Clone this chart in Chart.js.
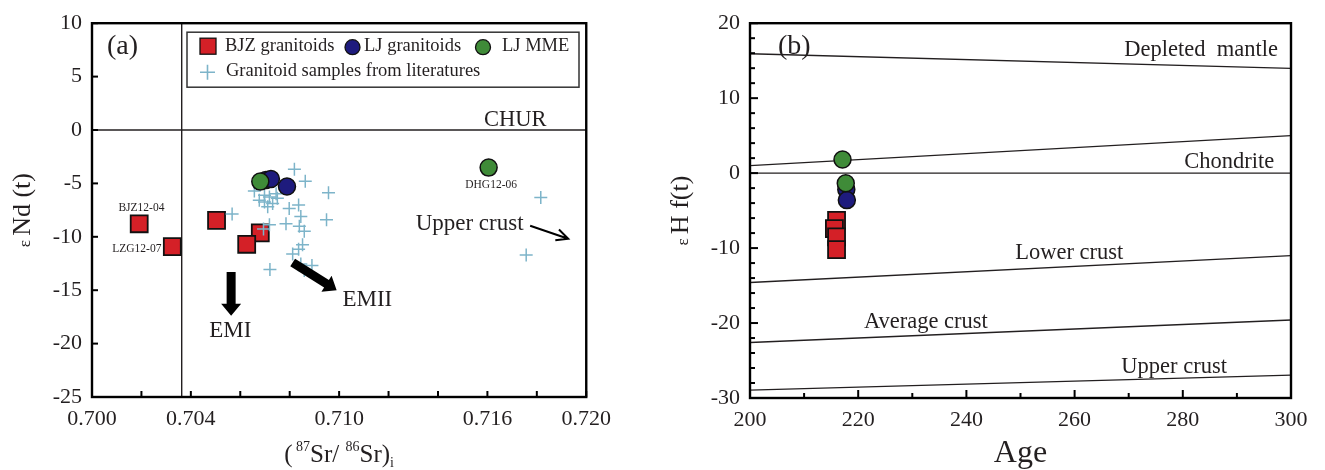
<!DOCTYPE html>
<html>
<head>
<meta charset="utf-8">
<script src="https://cdn.jsdelivr.net/npm/chart.js@4.4.0/dist/chart.umd.min.js"></script>
<style>
    body { margin: 0; background: #fff; width: 1325px; height: 470px; position: relative; overflow: hidden; }
    .panel { position: absolute; top: 0; height: 470px; }
    #wrapA { left: 0; width: 620px; }
    #wrapB { left: 660px; width: 665px; }
</style>
</head>
<body>
<div class="panel" id="wrapA"><canvas id="chartA"></canvas></div>
<div class="panel" id="wrapB"><canvas id="chartB"></canvas></div>
<script>
// Sr-Nd (a) and Hf-age (b) isotope diagrams

const serif = "'Liberation Serif', 'Times New Roman', serif";
const ink = '#231f20';
const colors = {
    red: '#d42027',
    navy: '#1e1b7d',
    green: '#3f8b38',
    cross: '#7db4c9'
};

// ---------- panel (a): (87Sr/86Sr)i vs eNd(t) ----------
const srTicks = [0.700, 0.702, 0.704, 0.706, 0.708, 0.710, 0.712, 0.714, 0.716, 0.718, 0.720];
const srTickLabels = [0.700, 0.704, 0.710, 0.716, 0.720];
const ndTicks = [10, 5, 0, -5, -10, -15, -20, -25];

const bjzSr = [0.70191, 0.70325, 0.70504, 0.70681, 0.70626];
const bjzNd = [-8.78, -10.92, -8.47, -9.63, -10.70];

const ljSr = [0.70704, 0.70724, 0.70789];
const ljNd = [-4.68, -4.59, -5.29];

const mmeSr = [0.70681, 0.71605];
const mmeNd = [-4.83, -3.52];

const litSr = [0.70819, 0.70863, 0.70957, 0.70949, 0.70836, 0.70798, 0.70845, 0.70785,
    0.70839, 0.70859, 0.70718, 0.70694, 0.70836, 0.70812, 0.70845, 0.70890, 0.70720,
    0.70859, 0.70657, 0.70677, 0.70698, 0.70718, 0.70731, 0.70711, 0.70745, 0.70698,
    0.70567, 0.71816, 0.71757, 0.70852, 0.70750];
const litNd = [-3.67, -4.80, -5.87, -8.41, -7.03, -7.34, -8.10, -8.78,
    -9.02, -9.48, -8.87, -9.27, -11.16, -11.62, -12.54, -12.69, -13.06,
    -13.15, -5.72, -6.58, -6.12, -6.27, -6.88, -7.19, -5.96, -6.73,
    -7.86, -6.33, -11.71, -10.75, -6.40];

// reference lines
const churSr = [0.700, 0.720];
const churNd = [0, 0];
const bseSr = [0.70363, 0.70363];
const bseNd = [10, -25];

// arrows (start, end)
const emiSr = [0.70563, 0.70563];
const emiNd = [-13.3, -17.4];
const emiiSr = [0.70812, 0.70990];
const emiiNd = [-12.4, -15.0];
const ucSr = [0.71773, 0.71927];
const ucNd = [-8.96, -10.18];

// ---------- panel (b): Age vs eHf(t) ----------
const ageTicks = [200, 210, 220, 230, 240, 250, 260, 270, 280, 290, 300];
const hfTicks = [20, 18, 16, 14, 12, 10, 8, 6, 4, 2, 0, -2, -4, -6, -8, -10, -12, -14, -16, -18,
    -20, -22, -24, -26, -28, -30];

const bjzAge = [216.0, 215.6, 216.0, 216.0];
const bjzHf = [-6.3, -7.4, -8.5, -10.2];

const ljAge = [217.8, 217.9];
const ljHf = [-2.2, -3.6];

const mmeAge = [217.1, 217.7];
const mmeHf = [1.82, -1.36];

const refAge = [200, 300];
const depletedMantle = [15.92, 13.97];
const chondriteUpper = [1.0, 5.0];
const chondrite = [0, 0];
const lowerCrust = [-14.6, -11.0];
const averageCrust = [-22.6, -19.6];
const upperCrust = [-28.95, -26.95];

function pts(xs, ys) {
    return xs.map((x, i) => ({ x: x, y: ys[i] }));
}

function near(list, v) {
    return list.some(l => Math.abs(l - v) < 1e-7);
}

function lineSet(xs, ys) {
    return {
        data: pts(xs, ys),
        showLine: true,
        pointRadius: 0,
        borderColor: ink,
        borderWidth: 1.4,
        fill: false
    };
}

// text with mixed sizes (superscripts etc.)
function drawRich(ctx, parts, cx, cy, rotate) {
    ctx.save();
    ctx.translate(cx, cy);
    if (rotate) ctx.rotate(-Math.PI / 2);
    let total = 0;
    parts.forEach(p => {
        ctx.font = p.size + 'px ' + serif;
        p.w = ctx.measureText(p.t).width;
        total += p.w;
    });
    let x = -total / 2;
    ctx.fillStyle = ink;
    ctx.textBaseline = 'alphabetic';
    ctx.textAlign = 'left';
    parts.forEach(p => {
        ctx.font = p.size + 'px ' + serif;
        ctx.fillText(p.t, x, p.dy || 0);
        x += p.w;
    });
    ctx.restore();
}

function fatArrow(ctx, x0, y0, x1, y1, shaft, headW, headL) {
    const ang = Math.atan2(y1 - y0, x1 - x0);
    const len = Math.hypot(x1 - x0, y1 - y0);
    ctx.save();
    ctx.translate(x0, y0);
    ctx.rotate(ang);
    ctx.fillStyle = '#000';
    ctx.beginPath();
    ctx.moveTo(0, -shaft / 2);
    ctx.lineTo(len - headL, -shaft / 2);
    ctx.lineTo(len - headL, -headW / 2);
    ctx.lineTo(len, 0);
    ctx.lineTo(len - headL, headW / 2);
    ctx.lineTo(len - headL, shaft / 2);
    ctx.lineTo(0, shaft / 2);
    ctx.closePath();
    ctx.fill();
    ctx.restore();
}

function openArrow(ctx, x0, y0, x1, y1, headL) {
    const ang = Math.atan2(y1 - y0, x1 - x0);
    ctx.save();
    ctx.strokeStyle = '#000';
    ctx.lineWidth = 2;
    ctx.beginPath();
    ctx.moveTo(x0, y0);
    ctx.lineTo(x1, y1);
    ctx.moveTo(x1 - headL * Math.cos(ang - 0.45), y1 - headL * Math.sin(ang - 0.45));
    ctx.lineTo(x1, y1);
    ctx.lineTo(x1 - headL * Math.cos(ang + 0.45), y1 - headL * Math.sin(ang + 0.45));
    ctx.stroke();
    ctx.restore();
}

// frame, inward ticks, annotations, titles
const decor = {
    id: 'decor',
    afterDatasetsDraw(chart, args, opts) {
        const ctx = chart.ctx;
        const a = chart.chartArea;
        const xs = chart.scales.x;
        const ys = chart.scales.y;
        ctx.save();

        // inward ticks
        ctx.strokeStyle = '#000';
        ctx.lineWidth = 2;
        xs.ticks.forEach(t => {
            const px = xs.getPixelForValue(t.value);
            const len = opts.xMajor(t.value) ? opts.tickMajor : opts.tickMinor;
            ctx.beginPath();
            ctx.moveTo(px, a.bottom);
            ctx.lineTo(px, a.bottom - len);
            ctx.stroke();
        });
        ys.ticks.forEach(t => {
            const py = ys.getPixelForValue(t.value);
            const len = opts.yMajor(t.value) ? opts.tickMajor : opts.tickMinor;
            ctx.beginPath();
            ctx.moveTo(a.left, py);
            ctx.lineTo(a.left + len, py);
            ctx.stroke();
        });

        // frame
        ctx.lineWidth = 2.4;
        ctx.strokeRect(a.left, a.top, a.right - a.left, a.bottom - a.top);

        // arrows
        (opts.fatArrows || []).forEach(ar => {
            fatArrow(ctx,
                xs.getPixelForValue(ar.xs[0]), ys.getPixelForValue(ar.ys[0]),
                xs.getPixelForValue(ar.xs[1]), ys.getPixelForValue(ar.ys[1]),
                ar.shaft, ar.headW, ar.headL);
        });
        (opts.openArrows || []).forEach(ar => {
            openArrow(ctx,
                xs.getPixelForValue(ar.xs[0]), ys.getPixelForValue(ar.ys[0]),
                xs.getPixelForValue(ar.xs[1]), ys.getPixelForValue(ar.ys[1]), 13);
        });

        // text labels placed at data coordinates
        ctx.fillStyle = ink;
        ctx.textBaseline = 'alphabetic';
        (opts.texts || []).forEach(tx => {
            ctx.font = tx.size + 'px ' + serif;
            ctx.textAlign = tx.align || 'center';
            ctx.fillText(tx.t, xs.getPixelForValue(tx.x), ys.getPixelForValue(tx.y));
        });

        // panel tag
        ctx.font = '28px ' + serif;
        ctx.textAlign = 'left';
        ctx.fillText(opts.tag, a.left + opts.tagDx, a.top + 31);

        // legend (panel a)
        if (opts.legend) {
            const L = a.left, T = a.top;
            ctx.lineWidth = 1.5;
            ctx.strokeStyle = '#333';
            ctx.strokeRect(L + 95, T + 9, 392, 55);
            ctx.lineWidth = 1.3;
            ctx.strokeStyle = '#111';
            // BJZ square
            ctx.fillStyle = colors.red;
            ctx.fillRect(L + 108, T + 15, 16, 16);
            ctx.strokeRect(L + 108, T + 15, 16, 16);
            // LJ circle
            ctx.fillStyle = colors.navy;
            ctx.beginPath(); ctx.arc(L + 260.5, T + 24, 7.5, 0, Math.PI * 2); ctx.fill(); ctx.stroke();
            // MME circle
            ctx.fillStyle = colors.green;
            ctx.beginPath(); ctx.arc(L + 391, T + 24, 7.5, 0, Math.PI * 2); ctx.fill(); ctx.stroke();
            // cross
            ctx.strokeStyle = colors.cross;
            ctx.lineWidth = 1.6;
            ctx.beginPath();
            ctx.moveTo(L + 108, T + 49); ctx.lineTo(L + 123, T + 49);
            ctx.moveTo(L + 115.5, T + 41.5); ctx.lineTo(L + 115.5, T + 56.5);
            ctx.stroke();
            ctx.fillStyle = ink;
            ctx.font = '18.5px ' + serif;
            ctx.textAlign = 'left';
            ctx.textBaseline = 'middle';
            ctx.fillText('BJZ granitoids', L + 133, T + 23);
            ctx.fillText('LJ granitoids', L + 272, T + 23);
            ctx.fillText('LJ MME', L + 410, T + 23);
            ctx.fillText('Granitoid samples from literatures', L + 134, T + 48);
        }

        // axis titles
        const cx = (a.left + a.right) / 2;
        const cy = (a.top + a.bottom) / 2;
        drawRich(ctx, opts.xTitle, cx, a.bottom + opts.xTitleDy, false);
        drawRich(ctx, opts.yTitle, a.left - opts.yTitleDx, cy, true);

        ctx.restore();
    }
};

function scaleX(min, max, ticks, labels, height, digits) {
    return {
        type: 'linear',
        min: min,
        max: max,
        afterBuildTicks: s => { s.ticks = ticks.map(v => ({ value: v })); },
        afterFit: s => { s.height = height; },
        grid: { display: false, drawTicks: false },
        border: { display: false },
        ticks: {
            autoSkip: false,
            maxRotation: 0,
            padding: 9,
            color: ink,
            font: { family: serif, size: 22 },
            callback: v => near(labels, v) ? v.toFixed(digits) : ''
        }
    };
}

function scaleY(min, max, ticks, labels, width) {
    return {
        type: 'linear',
        min: min,
        max: max,
        afterBuildTicks: s => { s.ticks = ticks.map(v => ({ value: v })); },
        afterFit: s => { s.width = width; },
        grid: { display: false, drawTicks: false },
        border: { display: false },
        ticks: {
            autoSkip: false,
            padding: 10,
            color: ink,
            font: { family: serif, size: 22 },
            callback: v => near(labels, v) ? String(v) : ''
        }
    };
}

const baseOptions = {
    responsive: true,
    maintainAspectRatio: false,
    animation: false,
    devicePixelRatio: 1
};

// Panel (a)
new Chart(document.getElementById('chartA'), {
    type: 'scatter',
    data: {
        datasets: [
            {
                label: 'LJ MME',
                data: pts(mmeSr, mmeNd),
                pointStyle: 'circle',
                pointRadius: 8.5,
                backgroundColor: colors.green,
                borderColor: '#111',
                borderWidth: 1.5
            },
            {
                label: 'LJ granitoids',
                data: pts(ljSr, ljNd),
                pointStyle: 'circle',
                pointRadius: 8.5,
                backgroundColor: colors.navy,
                borderColor: '#111',
                borderWidth: 1.5
            },
            {
                label: 'Granitoid samples from literatures',
                data: pts(litSr, litNd),
                pointStyle: 'cross',
                pointRadius: 6.5,
                borderColor: colors.cross,
                borderWidth: 1.5
            },
            {
                label: 'BJZ granitoids',
                data: pts(bjzSr, bjzNd),
                pointStyle: 'rect',
                pointRadius: 12,
                backgroundColor: colors.red,
                borderColor: '#111',
                borderWidth: 1.8
            },
            lineSet(churSr, churNd),
            lineSet(bseSr, bseNd)
        ]
    },
    options: {
        ...baseOptions,
        layout: { padding: { top: 16, right: 32, left: 0, bottom: 0 } },
        scales: {
            x: scaleX(0.700, 0.720, srTicks, srTickLabels, 73, 3),
            y: scaleY(-25, 10, ndTicks, ndTicks, 92)
        },
        plugins: {
            legend: { display: false },
            tooltip: { enabled: false },
            decor: {
                tag: '(a)',
                tagDx: 15,
                legend: true,
                tickMajor: 6,
                tickMinor: 6,
                xMajor: () => true,
                yMajor: () => true,
                fatArrows: [
                    { xs: emiSr, ys: emiNd, shaft: 9, headW: 20, headL: 12 },
                    { xs: emiiSr, ys: emiiNd, shaft: 9, headW: 19, headL: 12 }
                ],
                openArrows: [{ xs: ucSr, ys: ucNd }],
                texts: [
                    { t: 'CHUR', x: 0.71713, y: 0.4, size: 22.5 },
                    { t: 'BJZ12-04', x: 0.70200, y: -7.6, size: 11.5 },
                    { t: 'LZG12-07', x: 0.70281, y: -11.4, size: 11.5, align: 'right' },
                    { t: 'DHG12-06', x: 0.71615, y: -5.4, size: 11.5 },
                    { t: 'Upper crust', x: 0.71528, y: -9.36, size: 23 },
                    { t: 'EMI', x: 0.70560, y: -19.36, size: 23 },
                    { t: 'EMII', x: 0.71114, y: -16.5, size: 23 }
                ],
                xTitle: [
                    { t: '(', size: 25 },
                    { t: ' 87', size: 14, dy: -11 },
                    { t: 'Sr/ ', size: 25 },
                    { t: '86', size: 14, dy: -11 },
                    { t: 'Sr)', size: 25 },
                    { t: 'i', size: 14, dy: 5 }
                ],
                xTitleDy: 65,
                yTitle: [
                    { t: 'ε ', size: 17 },
                    { t: 'Nd (t)', size: 26 }
                ],
                yTitleDx: 62
            }
        }
    },
    plugins: [decor]
});

// Panel (b)
new Chart(document.getElementById('chartB'), {
    type: 'scatter',
    data: {
        datasets: [
            {
                label: 'LJ MME',
                data: pts(mmeAge, mmeHf),
                pointStyle: 'circle',
                pointRadius: 8.5,
                backgroundColor: colors.green,
                borderColor: '#111',
                borderWidth: 1.5
            },
            {
                label: 'LJ granitoids',
                data: pts(ljAge, ljHf),
                pointStyle: 'circle',
                pointRadius: 8.5,
                backgroundColor: colors.navy,
                borderColor: '#111',
                borderWidth: 1.5
            },
            {
                label: 'BJZ granitoids',
                data: pts(bjzAge, bjzHf),
                pointStyle: 'rect',
                pointRadius: 12,
                backgroundColor: colors.red,
                borderColor: '#111',
                borderWidth: 1.8
            },
            lineSet(refAge, depletedMantle),
            lineSet(refAge, chondriteUpper),
            lineSet(refAge, chondrite),
            lineSet(refAge, lowerCrust),
            lineSet(refAge, averageCrust),
            lineSet(refAge, upperCrust)
        ]
    },
    options: {
        ...baseOptions,
        layout: { padding: { top: 16, right: 34, left: 0, bottom: 0 } },
        scales: {
            x: scaleX(200, 300, ageTicks, [200, 220, 240, 260, 280, 300], 72, 0),
            y: scaleY(-30, 20, hfTicks, [20, 10, 0, -10, -20, -30], 90)
        },
        plugins: {
            legend: { display: false },
            tooltip: { enabled: false },
            decor: {
                tag: '(b)',
                tagDx: 28,
                tickMajor: 8,
                tickMinor: 5,
                xMajor: v => v % 20 === 0,
                yMajor: v => v % 10 === 0,
                texts: [
                    { t: 'Depleted  mantle', x: 297.6, y: 15.6, size: 22.5, align: 'right' },
                    { t: 'Chondrite', x: 296.9, y: 0.7, size: 22.5, align: 'right' },
                    { t: 'Lower crust', x: 259, y: -11.45, size: 22.5 },
                    { t: 'Average crust', x: 232.5, y: -20.66, size: 22.5 },
                    { t: 'Upper crust', x: 278.4, y: -26.6, size: 22.5 }
                ],
                xTitle: [{ t: 'Age', size: 32 }],
                xTitleDy: 64,
                yTitle: [
                    { t: 'ε ', size: 17 },
                    { t: 'H f(t)', size: 26 }
                ],
                yTitleDx: 62
            }
        }
    },
    plugins: [decor]
});
</script>
</body>
</html>
